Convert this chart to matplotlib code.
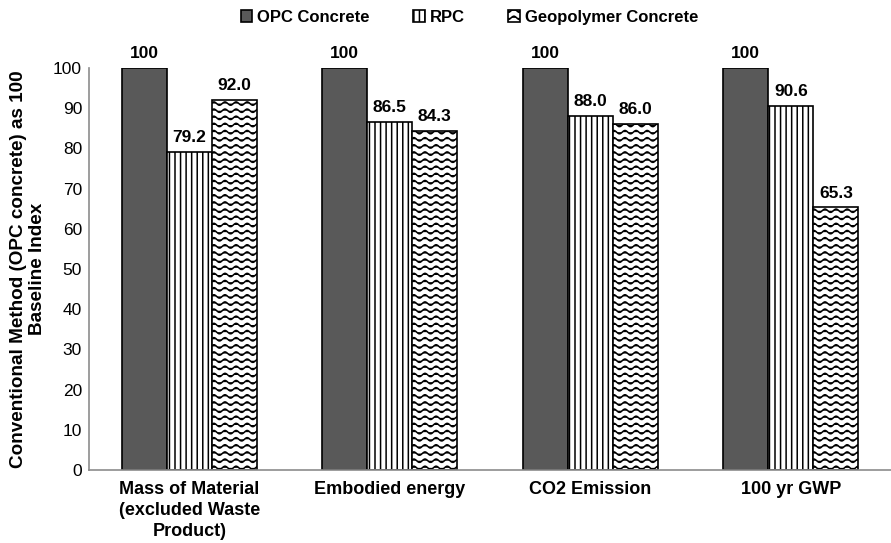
import numpy as np
import matplotlib
matplotlib.use("Agg")
import matplotlib.pyplot as plt
import matplotlib.hatch as mhatch
from matplotlib.path import Path

categories = ["Mass of Material\n(excluded Waste\nProduct)", "Embodied energy",
              "CO2 Emission", "100 yr GWP"]
series_names = ["OPC Concrete", "RPC", "Geopolymer Concrete"]
opc_values = [100, 100, 100, 100]
rpc_values = [79.2, 86.5, 88.0, 90.6]
geo_values = [92.0, 84.3, 86.0, 65.3]
y_ticks = [0, 10, 20, 30, 40, 50, 60, 70, 80, 90, 100]


# wavy hatch: replaces the plain horizontal '-' hatch
class WaveHatch(mhatch.HatchPatternBase):
    periods = 9
    pts_per_period = 10

    def __init__(self, hatch, density):
        self.num_lines = int((hatch.count('-') + hatch.count('+')) * density * 1.2)
        self.num_pts = self.periods * self.pts_per_period + 1
        self.num_vertices = self.num_lines * self.num_pts

    def set_vertices_and_codes(self, vertices, codes):
        steps, stepsize = np.linspace(0.0, 1.0, self.num_lines, False, retstep=True)
        steps += stepsize / 2.
        xs = np.linspace(0.0, 1.0, self.num_pts)
        wave = 0.017 * np.sin(2 * np.pi * self.periods * xs)
        for i, y in enumerate(steps):
            sl = slice(i * self.num_pts, (i + 1) * self.num_pts)
            vertices[sl, 0] = xs
            vertices[sl, 1] = y + wave
            codes[sl] = Path.LINETO
            codes[i * self.num_pts] = Path.MOVETO


mhatch._hatch_types = [WaveHatch if t is mhatch.HorizontalHatch else t
                       for t in mhatch._hatch_types]

plt.rcParams['font.family'] = ['Liberation Sans', 'DejaVu Sans']
plt.rcParams['hatch.linewidth'] = 1.1

fig = plt.figure(figsize=(8.91, 5.43), dpi=100)
ax = fig.add_axes([0.0999, 0.1344, 0.9001, 0.7404])

x = np.arange(len(categories))
w = 0.225
bars_opc = ax.bar(x - w, opc_values, w, color="#595959", edgecolor="black",
                  linewidth=1.2, label=series_names[0])
bars_rpc = ax.bar(x, rpc_values, w, color="white", edgecolor="black",
                  linewidth=1.2, hatch="|||", label=series_names[1])
bars_geo = ax.bar(x + w, geo_values, w, color="white", edgecolor="black",
                  linewidth=1.2, hatch="--", label=series_names[2])

ax.bar_label(bars_opc, fmt="{:.0f}", padding=5, fontsize=12.5, fontweight="bold")
ax.bar_label(bars_rpc, fmt="{:.1f}", padding=5, fontsize=12.5, fontweight="bold")
ax.bar_label(bars_geo, fmt="{:.1f}", padding=5, fontsize=12.5, fontweight="bold")

ax.set_xlim(-0.5, len(categories) - 0.5)
ax.set_ylim(0, 100)
ax.set_yticks(y_ticks)
ax.set_xticks(x)
ax.set_xticklabels(categories, fontsize=13, fontweight="bold")
for lbl in ax.get_xticklabels():
    lbl.set_linespacing(1.3)
ax.tick_params(axis="y", length=0, pad=5, labelsize=12.5)
ax.tick_params(axis="x", length=0, pad=8)

for side in ["top", "right"]:
    ax.spines[side].set_visible(False)
for side in ["left", "bottom"]:
    ax.spines[side].set_color("#8c8c8c")
    ax.spines[side].set_linewidth(1.2)

ax.set_ylabel("Conventional Method (OPC concrete) as 100\nBaseline Index",
              fontsize=13.6, fontweight="bold", labelpad=5)

fig.legend(loc="upper center", bbox_to_anchor=(0.527, 1.0), ncol=3, frameon=False,
           prop={"weight": "bold", "size": 12}, handlelength=0.7, handleheight=0.7,
           handletextpad=0.3, columnspacing=2.6, borderaxespad=0.2)

fig.savefig("out.png", dpi=100)
